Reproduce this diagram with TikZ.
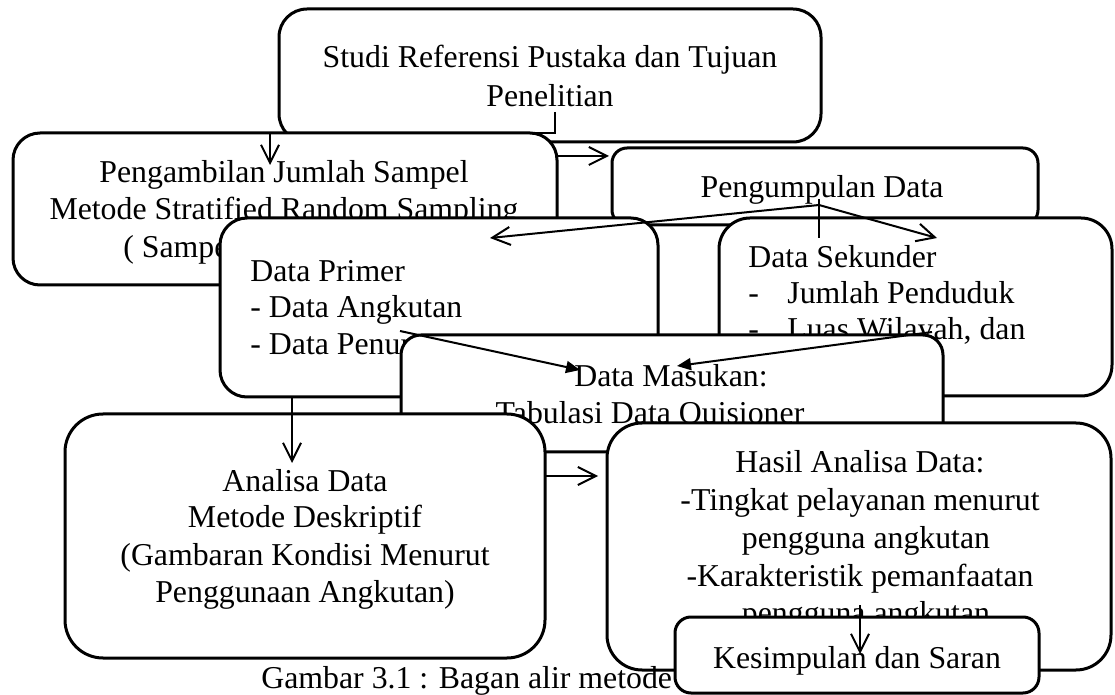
\documentclass[tikz,border=0pt]{standalone}
\usepackage{fontspec}
\setmainfont{Liberation Serif}
\usetikzlibrary{arrows.meta}
\begin{document}
\begin{tikzpicture}[x=0.5pt,y=-0.5pt,
  box/.style={draw=black,fill=white,line width=1.5pt,inner sep=0pt,outer sep=0pt},
  txt/.style={anchor=base,inner sep=0pt,font=\fontsize{15.9}{18}\selectfont},
  txtl/.style={txt,anchor=base west},
  arr/.style={line width=1pt,-{Straight Barb[length=9pt,width=9pt,line width=1pt]}},
  arrf/.style={line width=1pt,-{Triangle[length=7pt,width=6pt]}},
  plain/.style={line width=1pt}]
\useasboundingbox (0,0) rectangle (1115,695);
% 1 Studi
\node[box,minimum width=271pt,minimum height=66.5pt,rounded corners=14pt] (studi) at (550,75.5) {};
\node[txt] (studi1) at (550,68) {Studi Referensi Pustaka dan Tujuan};
\node[txt] (studi2) at (550,107) {Penelitian};
% 2 Pengambilan
\node[box,minimum width=272pt,minimum height=76pt,rounded corners=13.5pt] (ambil) at (285,209) {};
\node[txt] (ambil1) at (284,183) {Pengambilan Jumlah Sampel};
\node[txt] (ambil2) at (284,220) {Metode Stratified Random Sampling};
\node[txtl] (ambil3) at (123,258) {( Sampel};
% connector Studi -> Pengambilan
\coordinate (s1) at (555,112);
\coordinate (sbend) at (270,133);
\coordinate (s2) at (270,165);
\draw[arr] (s1) |- (sbend) -- (s2);
% 3 Pengumpulan
\node[box,minimum width=213pt,minimum height=38.5pt,rounded corners=7.5pt] (kumpul) at (825,186.5) {};
\node[txt] (kumpul1) at (822,198) {Pengumpulan Data};
\coordinate (a1) at (557,156);
\coordinate (a2) at (609,156);
\draw[arr] (a1) -- (a2);
% 4 Data Primer
\node[box,minimum width=219pt,minimum height=89.5pt,rounded corners=13.5pt] (primer) at (439,307.5) {};
\node[txtl] (primer1) at (250,282) {Data Primer};
\node[txtl] (primer2) at (250,318) {- Data Angkutan};
\node[txtl] (primer3) at (250,355) {- Data Penumpang};
% 5 Data Sekunder
\node[box,minimum width=196.5pt,minimum height=89pt,rounded corners=15.5pt] (sekunder) at (915.5,307) {};
\node[txtl] (sek1) at (748,268) {Data Sekunder};
\node[txtl] (sek2a) at (748,304) {-};
\node[txtl] (sek2b) at (787,304) {Jumlah Penduduk};
\node[txtl] (sek3a) at (748,340) {-};
\node[txtl] (sek3b) at (787,340) {Luas Wilayah, dan};
% connectors from Pengumpulan
\coordinate (pj) at (819,205);
\coordinate (pv1) at (819,199);
\coordinate (pv2) at (819,238);
\coordinate (pt1) at (490,238);
\coordinate (pt2) at (937,238);
\draw[plain] (pv1) -- (pv2);
\draw[arr] (pj) -- (pt1);
\draw[arr] (pj) -- (pt2);
% 6 Data Masukan
\node[box,minimum width=271pt,minimum height=58.5pt,rounded corners=10pt] (masukan) at (672,393.5) {};
\node[txt] (mas1) at (671,387) {Data Masukan:};
\node[txt] (mas2) at (650,423) {Tabulasi Data Quisioner};
\coordinate (m1) at (400,331);
\coordinate (m1t) at (580,370);
\coordinate (m2) at (932,332);
\coordinate (m2t) at (677,366);
\draw[arrf] (m1) -- (m1t);
\draw[arrf] (m2) -- (m2t);
% 7 Analisa
\node[box,minimum width=240pt,minimum height=122pt,rounded corners=19pt] (analisa) at (305,536) {};
\node[txt] (an1) at (305,492) {Analisa Data};
\node[txt] (an2) at (305,528) {Metode Deskriptif};
\node[txt] (an3) at (305,566) {(Gambaran Kondisi Menurut};
\node[txt] (an4) at (305,603) {Penggunaan Angkutan)};
\coordinate (d1) at (292,397);
\coordinate (d2) at (292,463);
\draw[arr] (d1) -- (d2);
\coordinate (h1) at (545,476);
\coordinate (h2) at (598,476);
\draw[arr] (h1) -- (h2);
% 8 Hasil
\node[box,minimum width=252pt,minimum height=123.5pt,rounded corners=17.5pt] (hasil) at (859,546.5) {};
\node[txt] (ha1) at (860,473) {Hasil Analisa Data:};
\node[txt] (ha2) at (860,510) {-Tingkat pelayanan menurut};
\node[txt] (ha3) at (866,548) {pengguna angkutan};
\node[txt] (ha4) at (860,586) {-Karakteristik pemanfaatan};
\node[txt] (ha5) at (866,623) {pengguna angkutan};
% caption
\node[txtl] (caption) at (261,688) {Gambar 3.1 : Bagan alir metode};
% 9 Kesimpulan
\node[box,minimum width=182pt,minimum height=38pt,rounded corners=8pt] (simpul) at (857,655) {};
\node[txt] (simpul1) at (857,668) {Kesimpulan dan Saran};
\coordinate (k1) at (860,605);
\coordinate (k2) at (860,654);
\draw[arr] (k1) -- (k2);
\end{tikzpicture}
\end{document}
